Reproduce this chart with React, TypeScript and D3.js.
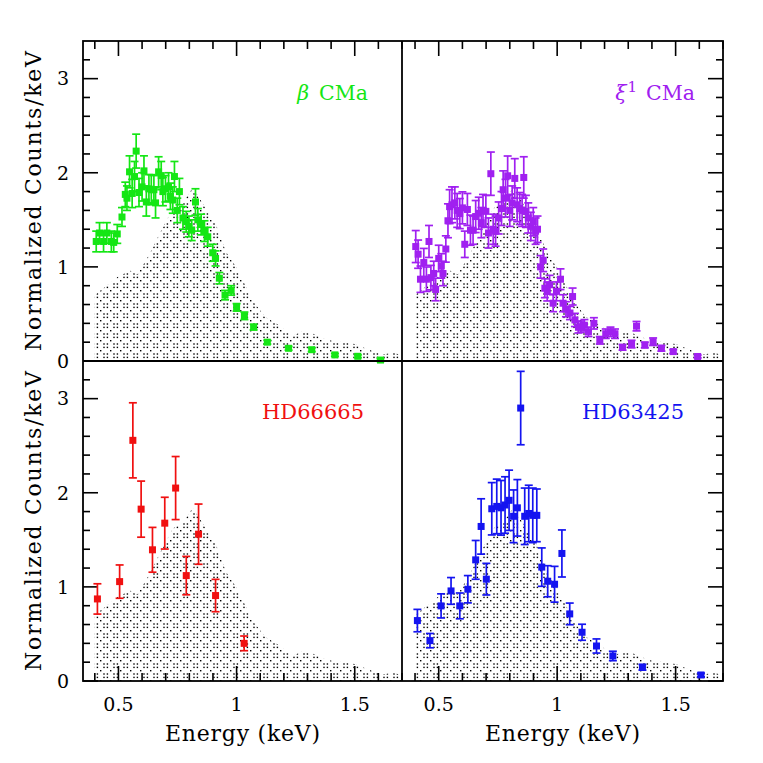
import React from 'react';
import * as d3 from 'd3';

const W = 763;
const H = 763;
const xLeft = 83;
const xMid = 402;
const xRight = 723;
const yTop = 41;
const yMid = 361;
const yBottom = 681;

// model spectrum (same shape in every panel)
const modelE = [0.40, 0.45, 0.50, 0.55, 0.58, 0.63, 0.68, 0.73, 0.77, 0.815, 0.86, 0.91, 0.955, 1.00, 1.04, 1.075, 1.12, 1.18, 1.24, 1.29, 1.34, 1.39, 1.45, 1.50, 1.56, 1.62, 1.66, 1.70];
const modelV = [0.70, 0.80, 0.90, 0.96, 0.92, 1.13, 1.38, 1.62, 1.68, 1.84, 1.66, 1.47, 1.16, 0.99, 0.79, 0.62, 0.47, 0.38, 0.27, 0.33, 0.27, 0.22, 0.20, 0.18, 0.12, 0.07, 0.09, 0.06];

// beta CMa
const betaE = [0.406, 0.420, 0.437, 0.451, 0.470, 0.480, 0.495, 0.515, 0.529, 0.536, 0.547, 0.558, 0.568, 0.575, 0.587, 0.600, 0.608, 0.618, 0.629, 0.639, 0.650, 0.657, 0.670, 0.681, 0.688, 0.699, 0.712, 0.720, 0.730, 0.737, 0.749, 0.758, 0.773, 0.787, 0.798, 0.810, 0.826, 0.836, 0.850, 0.864, 0.878, 0.899, 0.911, 0.927, 0.951, 0.977, 1.000, 1.033, 1.072, 1.130, 1.220, 1.318, 1.416, 1.513, 1.609];
const betaV = [1.27, 1.36, 1.27, 1.36, 1.27, 1.26, 1.35, 1.53, 1.77, 1.73, 2.01, 1.78, 1.96, 2.23, 1.79, 1.85, 2.02, 1.69, 1.83, 1.82, 1.82, 1.68, 2.01, 1.97, 1.80, 1.83, 1.85, 1.75, 1.71, 1.96, 1.60, 1.80, 1.52, 1.48, 1.43, 1.39, 1.69, 1.50, 1.45, 1.38, 1.32, 1.15, 1.09, 0.88, 0.70, 0.75, 0.57, 0.48, 0.36, 0.20, 0.135, 0.12, 0.065, 0.05, 0.01];
const betaErr = [0.11, 0.11, 0.11, 0.11, 0.11, 0.10, 0.10, 0.10, 0.13, 0.13, 0.17, 0.15, 0.16, 0.18, 0.15, 0.15, 0.16, 0.15, 0.15, 0.16, 0.15, 0.16, 0.16, 0.15, 0.15, 0.14, 0.15, 0.14, 0.14, 0.16, 0.13, 0.14, 0.12, 0.11, 0.11, 0.11, 0.14, 0.12, 0.11, 0.11, 0.10, 0.09, 0.08, 0.06, 0.05, 0.05, 0.04, 0.04, 0.03, 0.02, 0.02, 0.02, 0.015, 0.015, 0.015];

// xi1 CMa
const xiE = [0.403, 0.413, 0.423, 0.437, 0.448, 0.459, 0.467, 0.479, 0.487, 0.500, 0.511, 0.518, 0.530, 0.539, 0.546, 0.556, 0.568, 0.578, 0.589, 0.600, 0.610, 0.621, 0.634, 0.645, 0.656, 0.669, 0.680, 0.687, 0.699, 0.710, 0.720, 0.730, 0.740, 0.753, 0.765, 0.772, 0.782, 0.791, 0.800, 0.810, 0.821, 0.831, 0.842, 0.852, 0.859, 0.868, 0.878, 0.889, 0.899, 0.909, 0.917, 0.930, 0.941, 0.948, 0.958, 0.968, 0.983, 0.997, 1.014, 1.025, 1.037, 1.054, 1.065, 1.075, 1.090, 1.100, 1.115, 1.132, 1.155, 1.180, 1.205, 1.225, 1.244, 1.276, 1.314, 1.335, 1.370, 1.405, 1.440, 1.490, 1.593];
const xiV = [1.216, 1.135, 0.869, 1.046, 0.869, 1.27, 0.886, 0.93, 0.76, 1.09, 1.01, 0.93, 1.19, 1.49, 1.64, 1.66, 1.68, 1.60, 1.566, 1.627, 1.24, 1.61, 1.39, 1.39, 1.535, 1.57, 1.47, 1.60, 1.59, 1.36, 1.99, 1.40, 1.38, 1.52, 1.62, 1.82, 1.73, 1.968, 1.60, 1.68, 1.94, 1.66, 1.62, 1.60, 1.95, 1.59, 1.52, 1.43, 1.48, 1.38, 1.40, 1.00, 1.07, 0.773, 0.738, 0.81, 0.614, 0.74, 0.869, 0.614, 0.55, 0.51, 0.685, 0.436, 0.358, 0.365, 0.38, 0.31, 0.40, 0.22, 0.29, 0.31, 0.29, 0.145, 0.18, 0.37, 0.17, 0.205, 0.135, 0.10, 0.048];
const xiErr = [0.17, 0.15, 0.14, 0.15, 0.13, 0.17, 0.13, 0.13, 0.12, 0.14, 0.13, 0.13, 0.14, 0.18, 0.18, 0.19, 0.17, 0.18, 0.16, 0.17, 0.14, 0.17, 0.16, 0.15, 0.17, 0.17, 0.16, 0.17, 0.17, 0.16, 0.23, 0.16, 0.16, 0.17, 0.18, 0.20, 0.20, 0.21, 0.17, 0.18, 0.21, 0.18, 0.17, 0.17, 0.22, 0.17, 0.16, 0.15, 0.15, 0.14, 0.14, 0.12, 0.12, 0.10, 0.10, 0.10, 0.09, 0.10, 0.11, 0.09, 0.08, 0.07, 0.09, 0.07, 0.06, 0.06, 0.06, 0.05, 0.06, 0.04, 0.05, 0.05, 0.05, 0.03, 0.04, 0.05, 0.03, 0.04, 0.03, 0.02, 0.015];

// HD66665
const hd66E = [0.411, 0.505, 0.561, 0.596, 0.644, 0.696, 0.742, 0.787, 0.839, 0.911, 1.032];
const hd66V = [0.872, 1.056, 2.557, 1.826, 1.394, 1.677, 2.05, 1.12, 1.56, 0.908, 0.40];
const hd66Err = [0.161, 0.177, 0.399, 0.298, 0.238, 0.275, 0.335, 0.204, 0.32, 0.172, 0.078];

// HD63425
const hd63E = [0.41, 0.463, 0.51, 0.552, 0.589, 0.623, 0.656, 0.679, 0.701, 0.724, 0.745, 0.763, 0.78, 0.797, 0.816, 0.832, 0.846, 0.863, 0.88, 0.897, 0.914, 0.935, 0.96, 0.989, 1.02, 1.053, 1.105, 1.166, 1.235, 1.36, 1.607];
const hd63V = [0.642, 0.429, 0.798, 0.957, 0.798, 0.975, 1.287, 1.642, 1.082, 1.83, 1.855, 1.84, 1.87, 1.92, 1.75, 1.84, 2.90, 1.75, 1.78, 1.76, 1.76, 1.21, 1.06, 1.028, 1.355, 0.713, 0.518, 0.372, 0.266, 0.146, 0.064];
const hd63Err = [0.119, 0.076, 0.128, 0.142, 0.137, 0.145, 0.206, 0.294, 0.168, 0.278, 0.29, 0.29, 0.30, 0.32, 0.28, 0.30, 0.39, 0.30, 0.30, 0.29, 0.28, 0.204, 0.165, 0.19, 0.25, 0.115, 0.085, 0.075, 0.05, 0.03, 0.02];

const xMajor = [0.5, 1, 1.5];
const xMinor = d3.range(4, 18).map(d => d / 10).filter(d => !xMajor.includes(d));
const yMajor = [0, 1, 2, 3];
const yMinor = d3.range(1, 17).map(d => d / 5).filter(d => !Number.isInteger(d));

const font = '"DejaVu Serif", serif';

const panels = [
  { id: 'beta', col: 0, row: 0, E: betaE, V: betaV, err: betaErr, color: '#14e614' },
  { id: 'xi', col: 1, row: 0, E: xiE, V: xiV, err: xiErr, color: '#a020f0' },
  { id: 'hd66', col: 0, row: 1, E: hd66E, V: hd66V, err: hd66Err, color: '#f01010' },
  { id: 'hd63', col: 1, row: 1, E: hd63E, V: hd63V, err: hd63Err, color: '#1414f0' },
];

function Label({ id, color }) {
  if (id === 'beta') {
    return (
      <text x={368} y={100} fill={color} fontSize={20.5} fontFamily={font} textAnchor="end">
        <tspan fontStyle="italic">β</tspan><tspan dx={10}>CMa</tspan>
      </text>
    );
  }
  if (id === 'xi') {
    return (
      <text x={695} y={100} fill={color} fontSize={20.5} fontFamily={font} textAnchor="end">
        <tspan fontStyle="italic">ξ</tspan>
        <tspan fontSize={15} dx={1} dy={-8}>1</tspan>
        <tspan dx={9} dy={8}>CMa</tspan>
      </text>
    );
  }
  const x = id === 'hd66' ? 364 : 684;
  return (
    <text x={x} y={419} fill={color} fontSize={21} fontFamily={font} textAnchor="end">
      {id === 'hd66' ? 'HD66665' : 'HD63425'}
    </text>
  );
}

function Panel({ p }) {
  const x0 = p.col === 0 ? xLeft : xMid;
  const x1 = p.col === 0 ? xMid : xRight;
  const y0 = p.row === 0 ? yTop : yMid;
  const y1 = p.row === 0 ? yMid : yBottom;
  const x = d3.scaleLinear().domain(p.col === 0 ? [0.35, 1.7] : [0.345, 1.7]).range([x0, x1]);
  const y = d3.scaleLinear().domain([0, 3.4]).range([y1, y0]);

  const area = d3.area<number>()
    .x((d, i) => x(modelE[i]))
    .y0(y(0))
    .y1(d => y(d))(modelV);

  const xTicksEdge = p.row === 0 ? y0 : y1;
  const xDir = p.row === 0 ? 1 : -1;
  const yTicksEdge = p.col === 0 ? x0 : x1;
  const yDir = p.col === 0 ? 1 : -1;

  return (
    <g>
      <clipPath id={`clip-${p.id}`}>
        <rect x={x0} y={y0} width={x1 - x0} height={y1 - y0} />
      </clipPath>
      <path d={area} fill="url(#dots)" clipPath={`url(#clip-${p.id})`} />

      {/* x ticks on outer edge */}
      {xMajor.map(t => (
        <line key={'xM' + t} x1={x(t)} x2={x(t)} y1={xTicksEdge} y2={xTicksEdge + xDir * 15} stroke="#000" strokeWidth={1.6} />
      ))}
      {xMinor.map(t => (
        <line key={'xm' + t} x1={x(t)} x2={x(t)} y1={xTicksEdge} y2={xTicksEdge + xDir * 8} stroke="#000" strokeWidth={1.6} />
      ))}
      {/* y ticks on outer edge */}
      {yMajor.map(t => (
        <line key={'yM' + t} x1={yTicksEdge} x2={yTicksEdge + yDir * 15} y1={y(t)} y2={y(t)} stroke="#000" strokeWidth={1.6} />
      ))}
      {yMinor.map(t => (
        <line key={'ym' + t} x1={yTicksEdge} x2={yTicksEdge + yDir * 7} y1={y(t)} y2={y(t)} stroke="#000" strokeWidth={1.6} />
      ))}

      {/* tick labels */}
      {p.row === 1 && xMajor.map(t => (
        <text key={'xl' + t} x={x(t)} y={711} fontSize={19} fontFamily={font} textAnchor="middle">{d3.format('')(t)}</text>
      ))}
      {p.col === 0 && yMajor.map(t => (
        <text key={'yl' + t} x={69} y={y(t)} dy="0.36em" fontSize={19} fontFamily={font} textAnchor="end">{t}</text>
      ))}

      {/* data */}
      <g stroke={p.color} fill={p.color} strokeWidth={1.7}>
        {p.E.map((e, i) => {
          const cx = x(e);
          const cy = y(p.V[i]);
          const yHi = y(p.V[i] + p.err[i]);
          const yLo = y(p.V[i] - p.err[i]);
          return (
            <g key={i}>
              <line x1={cx} x2={cx} y1={yHi} y2={yLo} />
              <line x1={cx - 4} x2={cx + 4} y1={yHi} y2={yHi} />
              <line x1={cx - 4} x2={cx + 4} y1={yLo} y2={yLo} />
              <rect x={cx - 3.5} y={cy - 3.5} width={7} height={7} stroke="none" />
            </g>
          );
        })}
      </g>

      <Label id={p.id} color={p.color} />

      {p.row === 1 && (
        <text x={(x0 + x1) / 2} y={741} fontSize={22} fontFamily={font} textAnchor="middle" textLength={155} lengthAdjust="spacing">Energy (keV)</text>
      )}
      {p.col === 0 && (
        <text
          transform={`translate(41,${(y0 + y1) / 2}) rotate(-90)`}
          fontSize={22}
          fontFamily={font}
          textAnchor="middle"
          textLength={300}
          lengthAdjust="spacing"
        >Normalized Counts/keV</text>
      )}
    </g>
  );
}

export default function App() {
  return (
    <svg width={W} height={H} viewBox={`0 0 ${W} ${H}`} style={{ position: 'absolute', left: 0, top: 0, background: '#fff' }}>
      <defs>
        <pattern id="dots" width={10} height={10} patternUnits="userSpaceOnUse">
          <rect x={0} y={0} width={1.4} height={1.4} fill="#000" />
          <rect x={3.3} y={3.3} width={1.4} height={1.4} fill="#000" />
          <rect x={6.7} y={6.7} width={1.4} height={1.4} fill="#000" />
          <rect x={3.3} y={6.7} width={1.4} height={1.4} fill="#000" />
          <rect x={6.7} y={3.3} width={1.4} height={1.4} fill="#000" />
        </pattern>
      </defs>
      <rect x={0} y={0} width={W} height={H} fill="#fff" />
      {panels.map(p => <Panel key={p.id} p={p} />)}
      <rect x={xLeft} y={yTop} width={xRight - xLeft} height={yBottom - yTop} fill="none" stroke="#000" strokeWidth={1.8} />
      <line x1={xMid} x2={xMid} y1={yTop} y2={yBottom} stroke="#000" strokeWidth={1.8} />
      <line x1={xLeft} x2={xRight} y1={yMid} y2={yMid} stroke="#000" strokeWidth={1.8} />
    </svg>
  );
}
